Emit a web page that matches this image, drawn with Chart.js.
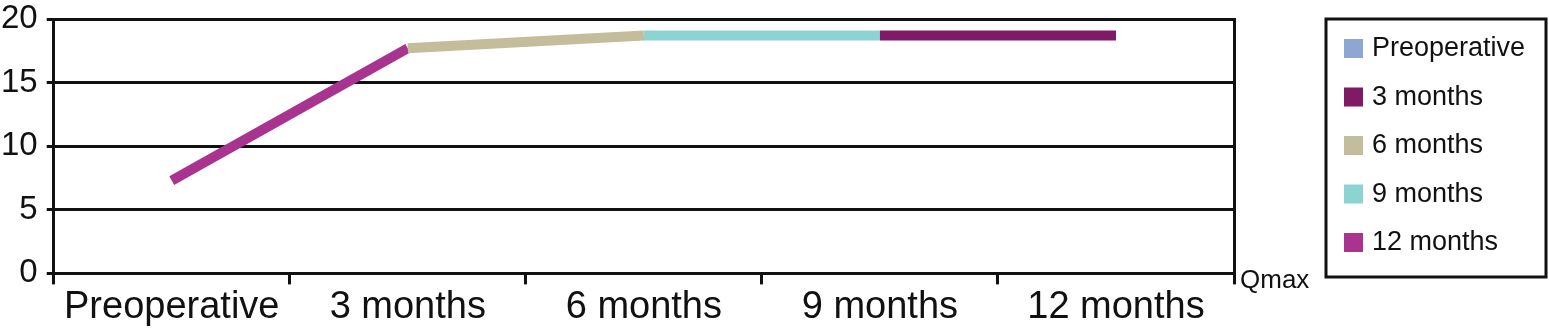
<!DOCTYPE html>
<html lang="en">
<head>
    <meta charset="UTF-8">
    <title>Qmax</title>
    <script src="https://cdn.jsdelivr.net/npm/chart.js"></script>
    <style type="text/css">
      body { margin: 0; background: #fff; }
      .chartBox { position: relative; width: 1549px; height: 333px; }
    </style>
</head>
<body>
    <div class="chartBox">
      <canvas id="myChart"></canvas>
    </div>
    <script>
        // data
        const categories = ['Preoperative', '3 months', '6 months', '9 months', '12 months'];
        const qmaxValues = [7.3, 17.7, 18.7, 18.7, 18.7];
        const yTicks = [0, 5, 10, 15, 20];
        const legendLabels = ['Preoperative', '3 months', '6 months', '9 months', '12 months'];
        const legendColors = ['#8EA6D2', '#7E1A66', '#C4BD9C', '#8DD3D1', '#A8348F'];
        // colour of each piece of line, between two categories
        const segmentColors = ['#A8348F', '#C4BD9C', '#8DD3D1', '#7E1A66'];

        const FONT = '"Liberation Sans", Arial, Helvetica, sans-serif';
        const INK = '#111';

        // legend box + Qmax label
        const sideLegend = {
          id: 'sideLegend',
          afterDraw(chart) {
            const ctx = chart.ctx;
            const area = chart.chartArea;
            ctx.save();
            ctx.fillStyle = INK;
            ctx.font = '26px ' + FONT;
            ctx.textAlign = 'left';
            ctx.textBaseline = 'alphabetic';
            ctx.fillText('Qmax', area.right + 6, area.bottom + 15);

            const bx = 1326, by = 19, bw = 220, bh = 258;
            ctx.strokeStyle = INK;
            ctx.lineWidth = 3;
            ctx.strokeRect(bx, by, bw, bh);

            ctx.font = '27px ' + FONT;
            ctx.textBaseline = 'middle';
            legendLabels.forEach(function (label, i) {
              const cy = by + 29 + i * 48.5;
              ctx.fillStyle = legendColors[i];
              ctx.fillRect(bx + 18, cy - 9, 19, 19);
              ctx.fillStyle = INK;
              ctx.fillText(label, bx + 46, cy + 1);
            });
            ctx.restore();
          }
        };

        const data = {
          labels: categories,
          datasets: [{
            label: 'Qmax',
            data: qmaxValues,
            borderWidth: 10,
            borderCapStyle: 'butt',
            borderJoinStyle: 'miter',
            pointRadius: 0,
            tension: 0,
            borderColor: segmentColors[0],
            segment: {
              borderColor: function (c) { return segmentColors[c.p0DataIndex]; }
            }
          }]
        };

        const config = {
          type: 'line',
          data,
          options: {
            responsive: true,
            maintainAspectRatio: false,
            animation: false,
            layout: { padding: { left: -8, right: 307, top: 19, bottom: 3 } },
            plugins: {
              legend: { display: false },
              tooltip: { enabled: false }
            },
            scales: {
              x: {
                type: 'category',
                offset: true,
                grid: {
                  offset: true,
                  drawOnChartArea: false,
                  drawTicks: true,
                  tickLength: 11,
                  color: INK,
                  lineWidth: 3
                },
                border: { display: true, color: INK, width: 3 },
                ticks: {
                  color: INK,
                  padding: 0,
                  maxRotation: 0,
                  font: { family: FONT, size: 38 }
                }
              },
              y: {
                min: 0,
                max: 20,
                afterBuildTicks: function (axis) {
                  axis.ticks = yTicks.map(function (v) { return { value: v }; });
                },
                // let the "20" label stick out above the plot, as in the picture
                afterFit: function (axis) {
                  axis.paddingTop = 0;
                  axis.paddingBottom = 0;
                },
                grid: {
                  color: INK,
                  lineWidth: 3,
                  drawTicks: true,
                  tickLength: 7
                },
                border: { display: true, color: INK, width: 3 },
                ticks: {
                  color: INK,
                  padding: 9,
                  font: { family: FONT, size: 33 }
                }
              },
              y2: {
                position: 'right',
                grid: { display: false },
                ticks: { display: false },
                border: { display: true, color: INK, width: 3 }
              }
            }
          },
          plugins: [sideLegend]
        };

        const myChart = new Chart(document.getElementById('myChart'), config);
    </script>
</body>
</html>
